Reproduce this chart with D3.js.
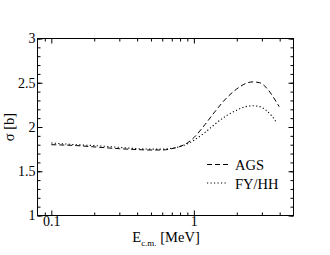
<!DOCTYPE html>
<html>
<head>
<meta charset="utf-8">
<script src="https://cdn.jsdelivr.net/npm/d3@7"></script>
<style>
  body { margin: 0; background: #fff; }
  svg text { font-family: "Liberation Serif", "DejaVu Serif", serif; fill: #000; }
</style>
</head>
<body>
<div id="chart"></div>
<script>
// values
var agsE = [0.1, 0.15, 0.2, 0.3, 0.4, 0.5, 0.6, 0.7, 0.8, 0.9, 1.0, 1.2, 1.4, 1.7, 2.0, 2.3, 2.6, 2.9, 3.2, 3.5, 3.8, 3.97];
var agsSigma = [1.80, 1.79, 1.775, 1.755, 1.745, 1.74, 1.74, 1.755, 1.78, 1.82, 1.88, 2.03, 2.17, 2.33, 2.43, 2.49, 2.51, 2.50, 2.45, 2.37, 2.28, 2.23];
var fyE = [0.1, 0.15, 0.2, 0.3, 0.4, 0.5, 0.6, 0.7, 0.8, 0.9, 1.0, 1.2, 1.4, 1.7, 2.0, 2.3, 2.6, 2.9, 3.2, 3.5, 3.81];
var fySigma = [1.82, 1.80, 1.79, 1.77, 1.755, 1.75, 1.75, 1.76, 1.78, 1.81, 1.85, 1.94, 2.03, 2.13, 2.19, 2.23, 2.24, 2.23, 2.19, 2.13, 2.05];
var xMajor = [0.1, 1];
var xMinor = [0.09, 0.2, 0.3, 0.4, 0.5, 0.6, 0.7, 0.8, 0.9, 2, 3, 4];
var yMajor = [1, 1.5, 2, 2.5, 3];
var yMinor = d3.range(10, 31).map(function(d){ return d / 10; });
var legendNames = ["AGS", "FY/HH"];

var width = 330, height = 255;
var padL = 37.5, padR = 293.5, padT = 38.5, padB = 215.5;

var svg = d3.select("#chart").append("svg")
  .attr("width", width)
  .attr("height", height);

var x = d3.scaleLog().domain([0.08, 5]).range([padL, padR]);
var y = d3.scaleLinear().domain([1, 3]).range([padB, padT]);

// bottom axis
var gB = svg.append("g").attr("transform", "translate(0," + padB + ")");
gB.call(d3.axisBottom(x).tickValues(xMinor).tickSize(-3).tickFormat(""));
gB.append("g").call(d3.axisBottom(x).tickValues(xMajor).tickSize(-5).tickPadding(1)
  .tickFormat(function(d){ return d === 1 ? "1" : "0.1"; }));
// top axis
var gT = svg.append("g").attr("transform", "translate(0," + padT + ")");
gT.call(d3.axisTop(x).tickValues(xMinor).tickSize(-3).tickFormat(""));
gT.append("g").call(d3.axisTop(x).tickValues(xMajor).tickSize(-5).tickFormat(""));
// left axis
var gL = svg.append("g").attr("transform", "translate(" + padL + ",0)");
gL.call(d3.axisLeft(y).tickValues(yMinor).tickSize(-3).tickFormat(""));
gL.append("g").call(d3.axisLeft(y).tickValues(yMajor).tickSize(-5).tickPadding(2).tickFormat(String));
// right axis
var gR = svg.append("g").attr("transform", "translate(" + padR + ",0)");
gR.call(d3.axisRight(y).tickValues(yMinor).tickSize(-3).tickFormat(""));
gR.append("g").call(d3.axisRight(y).tickValues(yMajor).tickSize(-5).tickFormat(""));

svg.selectAll(".domain").remove();
svg.selectAll(".tick line").attr("stroke", "#000");
svg.selectAll(".tick text").attr("font-family", "Liberation Serif").attr("font-size", "14px").attr("fill", "#000");

// frame
svg.append("rect")
  .attr("x", padL).attr("y", padT)
  .attr("width", padR - padL).attr("height", padB - padT)
  .attr("fill", "none").attr("stroke", "#000").attr("stroke-width", 1);

var line = d3.line()
  .x(function(d){ return x(d[0]); })
  .y(function(d){ return y(d[1]); })
  .curve(d3.curveMonotoneX);

svg.append("path")
  .datum(d3.zip(agsE, agsSigma))
  .attr("d", line)
  .attr("fill", "none").attr("stroke", "#000").attr("stroke-width", 1)
  .attr("stroke-dasharray", "5,3");

svg.append("path")
  .datum(d3.zip(fyE, fySigma))
  .attr("d", line)
  .attr("fill", "none").attr("stroke", "#000").attr("stroke-width", 1.1)
  .attr("stroke-dasharray", "1.2,2.3");

// legend
var dashes = ["5,3", "1.2,2.3"];
var leg = svg.selectAll(".leg").data(legendNames).enter().append("g")
  .attr("class", "leg")
  .attr("transform", function(d, i){ return "translate(207," + (164.5 + i * 18.5) + ")"; });
leg.append("line")
  .attr("x1", 0).attr("x2", 21).attr("y1", 0).attr("y2", 0)
  .attr("stroke", "#000").attr("stroke-width", 1)
  .attr("stroke-dasharray", function(d, i){ return dashes[i]; });
leg.append("text")
  .attr("x", 28).attr("y", 5.5)
  .attr("font-size", "14.5px")
  .text(function(d){ return d; });

// axis titles
var xt = svg.append("text")
  .attr("x", 166).attr("y", 242)
  .attr("text-anchor", "middle")
  .attr("font-size", "14.5px");
xt.append("tspan").text("E");
xt.append("tspan").attr("font-size", "9px").attr("dy", 4).text("c.m.");
xt.append("tspan").attr("dy", -4).text(" [MeV]");

svg.append("text")
  .attr("transform", "translate(14," + ((padT + padB) / 2) + ") rotate(-90)")
  .attr("text-anchor", "middle")
  .attr("font-size", "14.5px")
  .text("σ  [b]");
</script>
</body>
</html>
